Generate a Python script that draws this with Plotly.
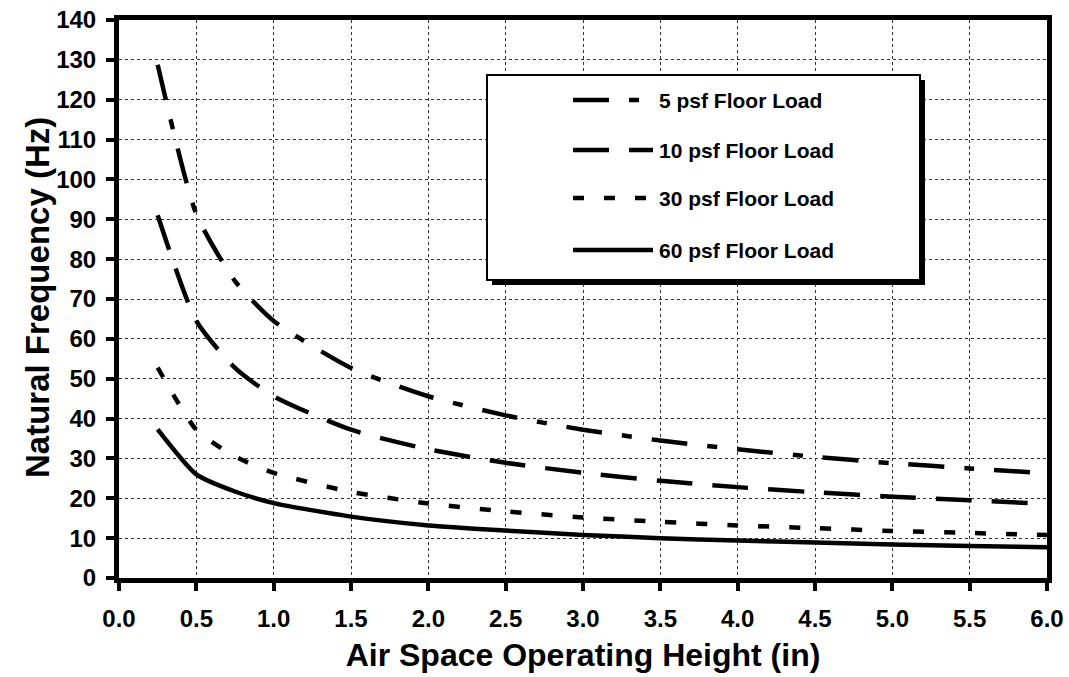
import plotly.graph_objects as go

# ---- data ----
height_in = [0.25, 0.5, 0.75, 1.0, 1.5, 2.0, 2.5, 3.0, 3.5, 4.0, 4.5, 5.0, 5.5, 6.0]
freq_5psf = [128.8, 91.3, 74.5, 64.5, 52.7, 45.6, 40.8, 37.2, 34.5, 32.3, 30.4, 28.8, 27.5, 26.3]
freq_10psf = [91.0, 64.5, 52.7, 45.6, 37.2, 32.3, 28.9, 26.4, 24.4, 22.8, 21.5, 20.4, 19.5, 18.6]
freq_30psf = [52.8, 37.2, 30.5, 26.4, 21.6, 18.7, 16.7, 15.2, 14.1, 13.2, 12.5, 11.8, 11.3, 10.8]
freq_60psf = [37.3, 26.0, 21.7, 18.8, 15.4, 13.2, 11.9, 10.8, 10.0, 9.4, 8.9, 8.4, 8.0, 7.7]

series_names = ["5 psf Floor Load", "10 psf Floor Load", "30 psf Floor Load", "60 psf Floor Load"]
series_values = [freq_5psf, freq_10psf, freq_30psf, freq_60psf]
dash_styles = ["36px,20px,10px,20px", "36px,20px", "11px,20px", "solid"]

x_ticks = [0.0, 0.5, 1.0, 1.5, 2.0, 2.5, 3.0, 3.5, 4.0, 4.5, 5.0, 5.5, 6.0]
y_ticks = list(range(0, 141, 10))

FONT = "Liberation Sans, Arial, sans-serif"

fig = go.Figure()
for name, vals, dash in zip(series_names, series_values, dash_styles):
    fig.add_trace(go.Scatter(
        x=height_in, y=vals, name=name, mode="lines",
        line=dict(color="black", width=4.5, dash=dash, shape="spline", smoothing=0.6),
        showlegend=False,
    ))

# plot area in pixels: x 119..1047, y 20..578
PX0, PX1, PY0, PY1 = 119, 1047, 20, 578
def px_x(p):
    return (p - PX0) / (PX1 - PX0)
def px_y(p):
    return (PY1 - p) / (PY1 - PY0)

shapes = []
# legend shadow and box
lx0, lx1, ly0, ly1 = 487, 920, 75, 280
shapes.append(dict(type="rect", xref="paper", yref="paper",
                   x0=px_x(lx0 + 5), x1=px_x(lx1 + 5), y0=px_y(ly1 + 5), y1=px_y(ly0 + 5),
                   fillcolor="black", line=dict(width=0), layer="above"))
shapes.append(dict(type="rect", xref="paper", yref="paper",
                   x0=px_x(lx0), x1=px_x(lx1), y0=px_y(ly1), y1=px_y(ly0),
                   fillcolor="white", line=dict(color="black", width=2), layer="above"))

row_y = [100, 150, 198, 250]
annotations = []
for name, dash, ry in zip(series_names, dash_styles, row_y):
    shapes.append(dict(type="line", xref="paper", yref="paper",
                       x0=px_x(573), x1=px_x(653), y0=px_y(ry), y1=px_y(ry),
                       line=dict(color="black", width=4.5, dash=dash), layer="above"))
    annotations.append(dict(xref="paper", yref="paper", x=px_x(657), y=px_y(ry),
                            xanchor="left", yanchor="middle", text=name, showarrow=False,
                            font=dict(family=FONT, size=21, color="black", weight="bold")))

# y axis title placed as a rotated annotation
annotations.append(dict(xref="paper", yref="paper", x=px_x(37), y=px_y(298),
                        xanchor="center", yanchor="middle", textangle=-90,
                        text="Natural Frequency (Hz)", showarrow=False,
                        font=dict(family=FONT, size=33, color="black", weight="bold")))

fig.update_layout(
    width=1069, height=677,
    margin=dict(l=PX0, r=1069 - PX1, t=PY0, b=677 - PY1),
    paper_bgcolor="white", plot_bgcolor="white",
    font=dict(family=FONT, color="black"),
    shapes=shapes, annotations=annotations,
)

fig.update_xaxes(
    range=[0, 6], tickvals=x_ticks, ticktext=[f"{v:.1f}" for v in x_ticks],
    showline=True, linecolor="black", linewidth=5, mirror=True,
    ticks="outside", ticklen=8, tickwidth=4, tickcolor="black",
    showgrid=True, gridcolor="#333333", gridwidth=1, griddash="dot",
    zeroline=False, automargin=False,
    tickfont=dict(family=FONT, size=24, color="black", weight="bold"),
    ticklabelstandoff=7,
    title=dict(text="Air Space Operating Height (in)", standoff=14,
               font=dict(family=FONT, size=32, color="black", weight="bold")),
)
fig.update_yaxes(
    range=[0, 140], tickvals=y_ticks,
    showline=True, linecolor="black", linewidth=5, mirror=True,
    ticks="outside", ticklen=8, tickwidth=4, tickcolor="black",
    showgrid=True, gridcolor="#333333", gridwidth=1, griddash="dot",
    zeroline=False, automargin=False,
    tickfont=dict(family=FONT, size=24, color="black", weight="bold"),
    ticklabelstandoff=5,
)

fig.write_html("out.html", config={"displayModeBar": False},
               post_script="document.body.style.margin='0';")
